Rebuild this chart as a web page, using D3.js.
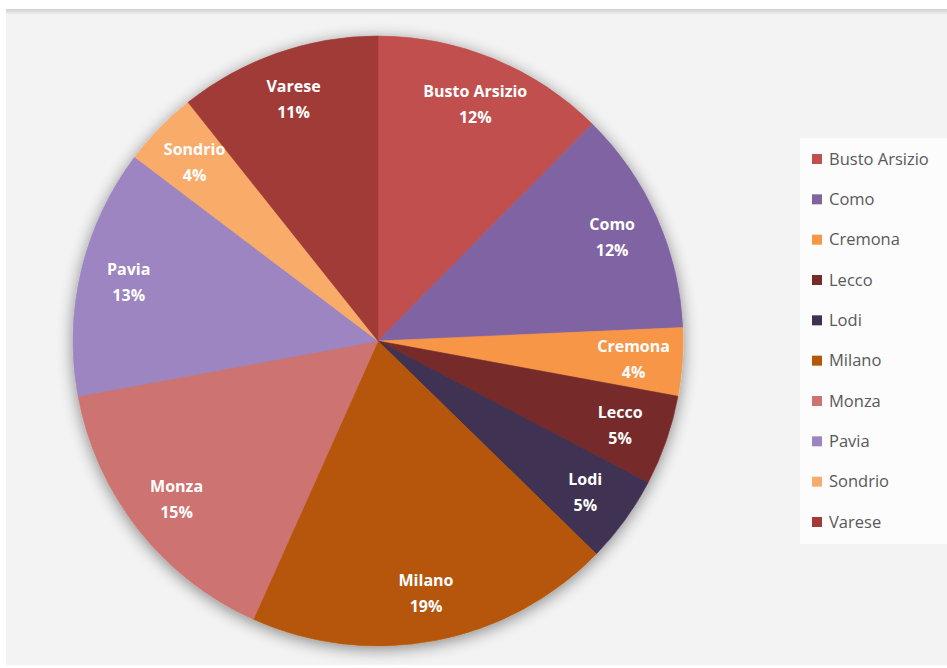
<!DOCTYPE html>
<html>
<head>
<meta charset="utf-8">
<script src="https://cdn.jsdelivr.net/npm/d3@7"></script>
<style>
  html, body { margin: 0; padding: 0; background: #ffffff; }
  svg { display: block; }
</style>
</head>
<body>
<svg id="chart" width="947" height="668"></svg>
<script>
// Share of each city (percent of total)
const cities = ["Busto Arsizio", "Como", "Cremona", "Lecco", "Lodi", "Milano", "Monza", "Pavia", "Sondrio", "Varese"];
const shares = [12.4, 11.9, 3.6, 4.8, 4.6, 19.4, 15.4, 13.2, 4.0, 10.7];
const palette = ["#c0504d", "#8064a2", "#f79646", "#772c2a", "#403152", "#b65708", "#cd7371", "#9c85c0", "#f9ab6b", "#a13b38"];

const W = 947, H = 668;
const cx = 378, cy = 341, R = 305;

const svg = d3.select("#chart");
const defs = svg.append("defs");

// soft halo behind the pie
const shadow = defs.append("filter").attr("id", "pieShadow")
  .attr("x", "-20%").attr("y", "-20%").attr("width", "140%").attr("height", "140%");
shadow.append("feGaussianBlur").attr("in", "SourceAlpha").attr("stdDeviation", 8).attr("result", "blur");
shadow.append("feOffset").attr("in", "blur").attr("dx", 0).attr("dy", 3).attr("result", "off");
shadow.append("feComponentTransfer").attr("in", "off").attr("result", "soft")
  .append("feFuncA").attr("type", "linear").attr("slope", 0.45);
const merge = shadow.append("feMerge");
merge.append("feMergeNode").attr("in", "soft");
merge.append("feMergeNode").attr("in", "SourceGraphic");

// panel shadow along the top edge
const topGrad = defs.append("linearGradient").attr("id", "topEdge")
  .attr("x1", 0).attr("y1", 0).attr("x2", 0).attr("y2", 1);
topGrad.append("stop").attr("offset", "0%").attr("stop-color", "#cfcfcf");
topGrad.append("stop").attr("offset", "100%").attr("stop-color", "#f3f3f3");

// chart panel
svg.append("rect").attr("x", 6).attr("y", 9).attr("width", W - 6).attr("height", H - 12)
  .attr("fill", "#f3f3f3");
svg.append("rect").attr("x", 6).attr("y", 9).attr("width", W - 6).attr("height", 6)
  .attr("fill", "url(#topEdge)");

// legend backdrop
svg.append("rect").attr("x", 800).attr("y", 138).attr("width", 147).attr("height", 406)
  .attr("fill", "#ffffff").attr("opacity", 0.7);

const total = d3.sum(shares);
const data = cities.map((c, i) => ({ city: c, value: shares[i], color: palette[i] }));

const pie = d3.pie().value(d => d.value).sort(null);
const arcs = pie(data);
const arc = d3.arc().innerRadius(0).outerRadius(R);
const labelArc = d3.arc().innerRadius(R * 0.84).outerRadius(R * 0.84);

const g = svg.append("g").attr("transform", `translate(${cx},${cy})`);

g.append("g").attr("filter", "url(#pieShadow)")
  .selectAll("path").data(arcs).join("path")
  .attr("d", arc)
  .attr("fill", d => d.data.color)
  .attr("stroke", d => d.data.color)
  .attr("stroke-width", 0.6);

const labels = g.append("g").selectAll("text").data(arcs).join("text")
  .attr("transform", d => `translate(${labelArc.centroid(d)})`)
  .attr("text-anchor", "middle")
  .attr("font-family", "'Open Sans', Lato, sans-serif")
  .attr("font-weight", "bold")
  .attr("font-size", 16)
  .attr("fill", "#ffffff");
labels.append("tspan").attr("x", 0).attr("y", -7).text(d => d.data.city);
labels.append("tspan").attr("x", 0).attr("y", 19)
  .text(d => Math.round(d.data.value / total * 100) + "%");

// legend
const legendY = d3.scalePoint().domain(cities).range([159, 522]);
const legend = svg.append("g").selectAll("g").data(data).join("g")
  .attr("transform", d => `translate(812,${legendY(d.city)})`);
legend.append("rect").attr("x", 0).attr("y", -5).attr("width", 10).attr("height", 10)
  .attr("fill", d => d.color);
legend.append("text").attr("x", 17).attr("y", 0).attr("dy", "0.35em")
  .attr("font-family", "'Open Sans', Lato, sans-serif")
  .attr("font-size", 16.5).attr("fill", "#595959")
  .text(d => d.city);
</script>
</body>
</html>
